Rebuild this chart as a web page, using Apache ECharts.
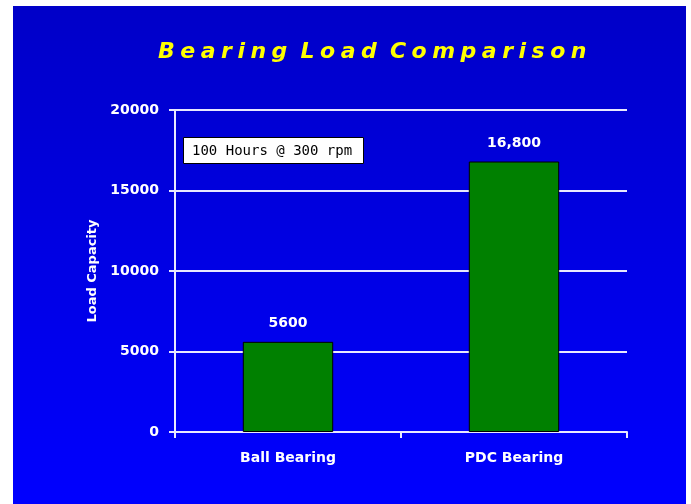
<!DOCTYPE html>
<html>
<head>
<meta charset="utf-8">
<script src="https://cdn.jsdelivr.net/npm/echarts@6/dist/echarts.min.js"></script>
<style>
  html, body { margin: 0; padding: 0; background: #fff; }
  #chart { position: absolute; left: 13px; top: 6px; width: 673px; height: 498px; }
</style>
</head>
<body>
<div id="chart"></div>
<script>
const categories = ['Ball Bearing', 'PDC Bearing'];
const loadValues = [5600, 16800];
const barLabels = ['5600', '16,800'];
const yTicks = [0, 5000, 10000, 15000, 20000];
const noteText = '100 Hours @ 300 rpm';
// letter-spaced title (four-per-em spaces between letters of each word)
const titleText = 'Bearing Load Comparison'.split(' ')
    .map(function (w) { return w.split('').join('\u2005'); })
    .join(' \u2005');

const chart = echarts.init(document.getElementById('chart'));
const font = 'DejaVu Sans';

const option = {
    backgroundColor: new echarts.graphic.LinearGradient(0, 0, 0, 1, [
        { offset: 0, color: '#0000c8' },
        { offset: 1, color: '#0000ff' }
    ]),
    animation: false,
    title: [
        {
            text: titleText,
            left: 145,
            top: 35,
            padding: 0,
            textStyle: {
                color: '#ffff00',
                fontFamily: font,
                fontSize: 22,
                fontWeight: 'bold',
                fontStyle: 'italic',
                textShadowColor: '#000040',
                textShadowOffsetX: 2,
                textShadowOffsetY: 2,
                textShadowBlur: 0
            }
        },
        {
            text: noteText,
            left: 170,
            top: 131,
            padding: [7, 12, 6, 9],
            backgroundColor: '#ffffff',
            borderColor: '#000000',
            borderWidth: 1,
            textStyle: {
                color: '#000000',
                fontFamily: 'DejaVu Sans Mono',
                fontSize: 14,
                fontWeight: 'normal'
            }
        }
    ],
    grid: {
        left: 162,
        top: 104,
        right: 59,
        bottom: 72
    },
    xAxis: {
        type: 'category',
        data: categories,
        axisLine: { lineStyle: { color: '#e8e8ff', width: 2 } },
        axisTick: { show: true, length: 6, lineStyle: { color: '#e8e8ff', width: 2 } },
        axisLabel: {
            color: '#ffffff',
            fontFamily: font,
            fontSize: 14,
            fontWeight: 'bold',
            margin: 19
        }
    },
    yAxis: {
        type: 'value',
        min: yTicks[0],
        max: yTicks[yTicks.length - 1],
        interval: yTicks[1] - yTicks[0],
        name: 'Load Capacity',
        nameLocation: 'middle',
        nameGap: 76,
        nameRotate: 90,
        nameTextStyle: {
            color: '#ffffff',
            fontFamily: font,
            fontSize: 13,
            fontWeight: 'bold'
        },
        axisLine: { show: true, lineStyle: { color: '#e8e8ff', width: 2 } },
        axisTick: { show: true, length: 6, lineStyle: { color: '#e8e8ff', width: 2 } },
        axisLabel: {
            color: '#ffffff',
            fontFamily: font,
            fontSize: 14,
            fontWeight: 'bold',
            margin: 16,
            formatter: function (v) { return String(v); }
        },
        splitLine: { lineStyle: { color: '#e8e8ff', width: 2 } }
    },
    series: [
        {
            type: 'bar',
            data: loadValues,
            barWidth: '40%',
            itemStyle: {
                color: '#008000',
                borderColor: '#000000',
                borderWidth: 1
            },
            label: {
                show: true,
                position: 'top',
                distance: 11,
                color: '#ffffff',
                fontFamily: font,
                fontSize: 14,
                fontWeight: 'bold',
                formatter: function (p) { return barLabels[p.dataIndex]; }
            }
        }
    ]
};

chart.setOption(option);
</script>
</body>
</html>
